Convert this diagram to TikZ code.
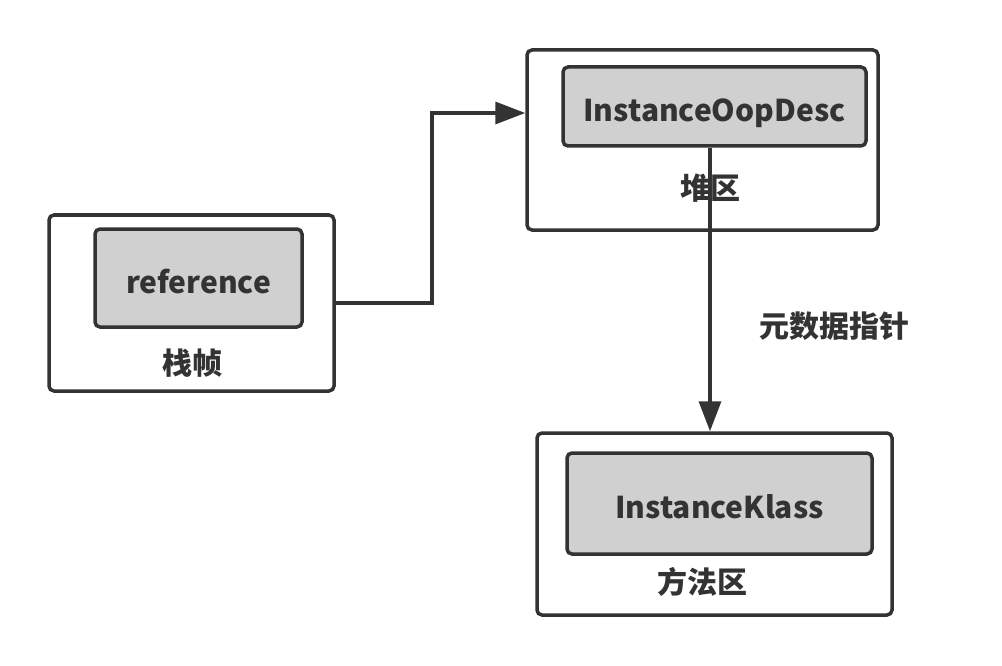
\documentclass[tikz,border=0pt]{standalone}
\usepackage{fontspec}
\newfontfamily\cjk{Noto Sans CJK SC}
\usetikzlibrary{positioning, arrows.meta}
\definecolor{linegray}{HTML}{333333}
\definecolor{boxgray}{HTML}{D0D0D0}
\tikzstyle{areabox} = [rectangle, rounded corners=5pt, draw=linegray, line width=3.5pt, fill=white]
\tikzstyle{objbox} = [rectangle, rounded corners=5pt, draw=linegray, line width=3.5pt, fill=boxgray, text=linegray, text height=30pt, text depth=0pt, font=\cjk\bfseries\fontsize{30}{36}\selectfont]
\tikzstyle{areaname} = [text=linegray, font=\cjk\bfseries\fontsize{30}{36}\selectfont]
\tikzstyle{arrow} = [line width=3.5pt, draw=linegray, -{Triangle[length=30pt, width=22pt]}]

\begin{document}
\begin{tikzpicture}[x=1pt, y=-1pt]
        \useasboundingbox (0,0) rectangle (1002,666);

        % Nodes for the memory areas
        \node (stack) [areabox, minimum width=285pt, minimum height=176pt] at (191.5,303) {};
        \node (heap) [areabox, minimum width=351pt, minimum height=180pt] at (702.5,140) {};
        \node (method) [areabox, minimum width=355pt, minimum height=182pt] at (714.5,524) {};

        % Nodes for the objects inside
        \node (ref) [objbox, minimum width=207pt, minimum height=98pt] at (198.5,278) {reference};
        \node (oop) [objbox, minimum width=303pt, minimum height=79pt] at (714.5,106.5) {InstanceOopDesc};
        \node (klass) [objbox, minimum width=305pt, minimum height=101pt] at (719.5,503.5) {InstanceKlass};

        % Names of the areas
        \node (stackname) [areaname] at (192,363) {栈帧};
        \node (heapname) [areaname] at (710,188) {堆区};
        \node (methodname) [areaname] at (702,582) {方法区};

        % Arrow from the reference to the heap
        \coordinate (heapin) at ([yshift=27pt]heap.west);
        \draw [arrow] (stack.east) -- ++(96,0) |- (heapin);

        % Arrow for the metadata pointer
        \coordinate (ptr) at ([xshift=-4.5pt]oop.south);
        \draw [arrow] (ptr) -- (ptr |- method.north) node [areaname, pos=0.63, anchor=west, xshift=44pt] {元数据指针};

    \end{tikzpicture}
\end{document}
